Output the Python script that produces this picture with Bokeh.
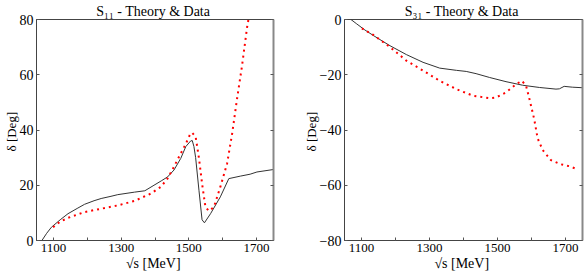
from bokeh.plotting import figure
from bokeh.layouts import row
from bokeh.models import FixedTicker, LinearAxis, Range1d, Title
from bokeh.embed import file_html
from bokeh.resources import INLINE

FONT = "Liberation Serif"

# ---- data ----
s11_theory_x = [1066, 1080, 1094, 1120, 1143, 1170, 1192, 1220, 1241, 1270, 1290, 1339, 1370, 1397,
                1420, 1437, 1456, 1476, 1491, 1505, 1510, 1515, 1520, 1530, 1539, 1546, 1564, 1593,
                1618, 1652, 1681, 1701, 1750]
s11_theory_y = [0, 2.6, 4.8, 7.5, 9.7, 11.6, 13.1, 14.4, 15.2, 16.0, 16.6, 17.5, 18.0, 20.0,
                21.7, 23.0, 25.5, 29.7, 34.0, 36.0, 36.2, 34.0, 30.0, 18.0, 7.5, 6.4, 9.7, 15.8,
                22.4, 23.3, 24.0, 24.8, 25.7]
s11_data_x = [1099, 1120, 1143, 1192, 1241, 1290, 1339, 1388, 1417, 1437, 1456, 1476, 1491, 1505,
              1510, 1520, 1530, 1539, 1549, 1559, 1574, 1593, 1613, 1628, 1642, 1657, 1672, 1676]
s11_data_y = [4.8, 6.8, 8.2, 10.3, 11.5, 12.7, 14.3, 17.0, 19.4, 22.4, 26.7, 31.5, 35.0, 38.8,
              39.0, 37.6, 29.7, 20.6, 12.1, 10.7, 12.1, 19.4, 27.9, 38.8, 51.0, 63.2, 77.2, 80.0]

s31_theory_x = [1069, 1086, 1110, 1135, 1160, 1184, 1232, 1281, 1330, 1379, 1408, 1437, 1477, 1525,
                1574, 1623, 1672, 1682, 1696, 1720, 1750]
s31_theory_y = [0, -1.6, -3.8, -5.8, -7.7, -9.5, -12.7, -15.5, -17.6, -18.4, -18.8, -19.6, -21.0,
                -22.5, -23.8, -24.6, -25.2, -25.1, -24.2, -24.5, -24.7]
s31_data_x = [1101, 1135, 1184, 1232, 1281, 1330, 1379, 1428, 1477, 1496, 1525, 1555, 1572, 1584,
              1594, 1608, 1618, 1633, 1657, 1686, 1711, 1735]
s31_data_y = [-3.2, -5.6, -10.0, -14.9, -18.5, -22.2, -25.2, -27.6, -28.5, -28.2, -26.4, -23.4,
              -22.2, -24.0, -28.8, -36.1, -43.0, -47.3, -50.9, -52.4, -53.1, -54.2]

x_major = [1100, 1300, 1500, 1700]
x_minor = [1200, 1400, 1600]
s11_yticks = [0, 20, 40, 60, 80]
s31_yticks = [0, -20, -40, -60, -80]
titles = ["S₁₁  - Theory & Data", "S₃₁  - Theory & Data"]


def style_axis(ax, labels=True):
    ax.axis_line_color = "#444444"
    ax.major_tick_line_color = "#555555"
    ax.minor_tick_line_color = "#555555"
    ax.major_tick_in = 3
    ax.major_tick_out = 0
    ax.minor_tick_in = 3
    ax.minor_tick_out = 0
    ax.major_label_text_font = FONT
    ax.major_label_text_color = "black"
    ax.axis_label_text_font = FONT
    ax.axis_label_text_font_style = "normal"
    ax.axis_label_text_color = "black"
    ax.axis_label_text_font_size = "14px"
    if not labels:
        ax.major_label_overrides = {t: "" for t in ax.ticker.ticks}


def make(tx, ty, dx, dy, yr, yticks, bl, br, title):
    w = bl + 238 + br
    p = figure(width=w, height=273, output_backend="svg", toolbar_location=None,
               x_range=Range1d(1050, 1750), y_range=Range1d(*yr),
               min_border_left=bl, min_border_right=br, min_border_top=4, min_border_bottom=33)
    p.grid.visible = False
    p.outline_line_color = "#444444"
    p.background_fill_color = "white"
    p.border_fill_color = "white"

    t = Title(text=title, align="center", text_font=FONT, text_font_size="14px",
              text_font_style="normal", text_color="black", standoff=2, offset=0)
    p.add_layout(t, "above")

    xt = FixedTicker(ticks=x_major, minor_ticks=x_minor)
    yt = FixedTicker(ticks=yticks, minor_ticks=[])
    p.xaxis.ticker = xt
    p.yaxis.ticker = yt
    for ax in p.xaxis:
        style_axis(ax)
        ax.major_label_text_font_size = "13px"
        ax.major_label_standoff = 3
        ax.axis_label = "√s  [MeV]"
        ax.axis_label_standoff = 1
    for ax in p.yaxis:
        style_axis(ax)
        ax.major_label_text_font_size = "14px"
        ax.major_label_standoff = 3
        ax.axis_label = "δ  [Deg]"
        ax.axis_label_text_font_size = "13px"
        ax.axis_label_standoff = -2

    right = LinearAxis(ticker=yt)
    style_axis(right, labels=False)
    right.axis_line_color = "#888888"
    right.axis_line_width = 2
    p.add_layout(right, "right")

    p.line(tx, ty, line_color="#333333", line_width=1)
    p.line(dx, dy, line_color="red", line_width=2, line_dash="2 4")
    return p


p1 = make(s11_theory_x, s11_theory_y, s11_data_x, s11_data_y, (0, 80), s11_yticks, 35, 17,
          titles[0])
p2 = make(s31_theory_x, s31_theory_y, s31_data_x, s31_data_y, (-80, 0), s31_yticks, 54, 2,
          titles[1])

layout = row(p1, p2, spacing=0)

open("out.html", "w").write(file_html(layout, INLINE))
